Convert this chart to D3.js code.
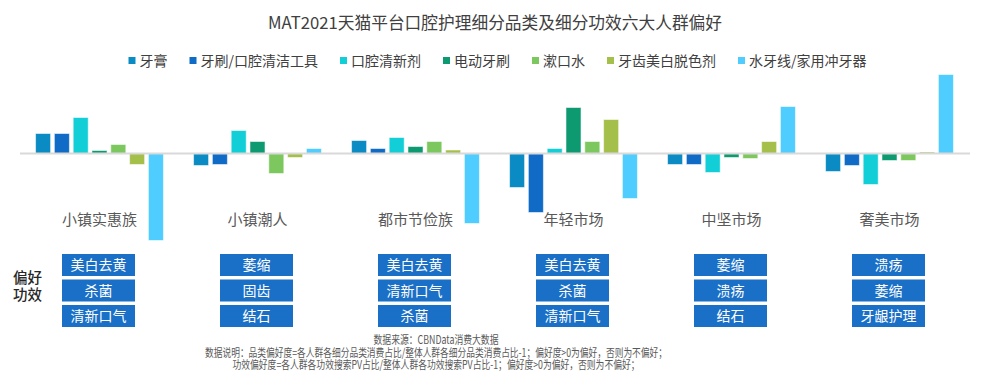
<!DOCTYPE html>
<html>
<head>
<meta charset="utf-8">
<script src="https://cdn.jsdelivr.net/npm/d3@7"></script>
<style>
  body { margin: 0; background: #fff; }
  text { font-family: "Noto Sans CJK SC", "Noto Sans", sans-serif; }
</style>
</head>
<body>
<div id="chart"></div>
<script>
// categories and series
var groups = ["小镇实惠族", "小镇潮人", "都市节俭族", "年轻市场", "中坚市场", "奢美市场"];
var series = ["牙膏", "牙刷/口腔清洁工具", "口腔清新剂", "电动牙刷", "漱口水", "牙齿美白脱色剂", "水牙线/家用冲牙器"];
var colors = ["#0b8bc3", "#106bc6", "#12cfd7", "#0e9a70", "#7dc85e", "#a4c04a", "#50cdff"];

// preference values per series (one entry per group)
var toothpaste   = [0.20, -0.12, 0.13, -0.34, -0.11, -0.18];
var toothbrush   = [0.20, -0.11, 0.05, -0.59, -0.11, -0.12];
var freshener    = [0.36,  0.23, 0.16,  0.05, -0.19, -0.31];
var electric     = [0.03,  0.12, 0.07,  0.46, -0.04, -0.07];
var mouthwash    = [0.09, -0.20, 0.12,  0.12, -0.05, -0.07];
var whitening    = [-0.11, -0.04, 0.035, 0.34, 0.12, 0.015];
var flosser      = [-0.87, 0.05, -0.70, -0.45, 0.47, 0.79];
var values = [toothpaste, toothbrush, freshener, electric, mouthwash, whitening, flosser];

// efficacy preference boxes per group
var effects = [
  ["美白去黄", "杀菌", "清新口气"],
  ["萎缩", "固齿", "结石"],
  ["美白去黄", "清新口气", "杀菌"],
  ["美白去黄", "杀菌", "清新口气"],
  ["萎缩", "溃疡", "结石"],
  ["溃疡", "萎缩", "牙龈护理"]
];

var sideLabel = ["偏好", "功效"];

var notes = [
  "数据来源：CBNData消费大数据",
  "数据说明：品类偏好度=各人群各细分品类消费占比/整体人群各细分品类消费占比-1；偏好度>0为偏好，否则为不偏好；",
  "功效偏好度=各人群各功效搜索PV占比/整体人群各功效搜索PV占比-1；偏好度>0为偏好，否则为不偏好；"
];

var width = 1000, height = 373;

var svg = d3.select("#chart")
  .append("svg")
    .attr("width", width)
    .attr("height", height);

// title
svg.append("text")
  .attr("x", 495)
  .attr("y", 29)
  .attr("text-anchor", "middle")
  .attr("font-size", 17)
  .attr("fill", "#404040")
  .attr("textLength", 454)
  .attr("lengthAdjust", "spacingAndGlyphs")
  .text("MAT2021天猫平台口腔护理细分品类及细分功效六大人群偏好");

// legend, laid out left to right then centred
var legend = svg.append("g");
var lx = 0;
series.forEach(function(s, i) {
  var item = legend.append("g").attr("transform", "translate(" + lx + ",0)");
  item.append("rect")
    .attr("x", 0).attr("y", -4)
    .attr("width", 7).attr("height", 7)
    .attr("fill", colors[i]);
  var t = item.append("text")
    .attr("x", 11).attr("y", 5)
    .attr("font-size", 14)
    .attr("fill", "#404040")
    .text(s);
  lx += 11 + t.node().getComputedTextLength() + 22;
});
lx -= 22;
legend.attr("transform", "translate(" + (497.5 - lx / 2) + ",61)");

// scales
var x0 = d3.scaleBand()
  .domain(groups)
  .range([20.5, 968.5]);

var x1 = d3.scaleBand()
  .domain(d3.range(series.length))
  .range([0, x0.bandwidth()])
  .paddingInner(0.2)
  .paddingOuter(0.8);

var y = d3.scaleLinear()
  .domain([-1, 1])
  .range([253.5, 53.5]);

// bars
var groupG = svg.selectAll(".grp")
  .data(groups)
  .enter()
  .append("g")
    .attr("class", "grp")
    .attr("transform", function(d) { return "translate(" + x0(d) + ",0)"; });

groupG.selectAll("rect")
  .data(function(d, gi) {
    return values.map(function(v, si) { return {s: si, v: v[gi]}; });
  })
  .enter()
  .append("rect")
    .attr("x", function(d) { return x1(d.s); })
    .attr("width", x1.bandwidth())
    .attr("y", function(d) { return y(Math.max(0, d.v)); })
    .attr("height", function(d) { return Math.abs(y(d.v) - y(0)); })
    .attr("fill", function(d) { return colors[d.s]; })
    .attr("stroke", "#ffffff")
    .attr("stroke-opacity", 0.55)
    .attr("stroke-width", 1);

// zero line
svg.append("line")
  .attr("x1", 20).attr("x2", 970)
  .attr("y1", y(0)).attr("y2", y(0))
  .attr("stroke", "#d9d9d9")
  .attr("stroke-width", 2);

// group labels
svg.selectAll(".glabel")
  .data(groups)
  .enter()
  .append("text")
    .attr("class", "glabel")
    .attr("x", function(d) { return x0(d) + x0.bandwidth() / 2; })
    .attr("y", 225)
    .attr("text-anchor", "middle")
    .attr("font-size", 15)
    .attr("fill", "#595959")
    .text(function(d) { return d; });

// efficacy boxes
var boxW = 73, boxH = 22, boxTop = 254, boxStep = 25.5;
groups.forEach(function(g, gi) {
  var cx = x0(g) + x0.bandwidth() / 2 - 1;
  effects[gi].forEach(function(e, r) {
    svg.append("rect")
      .attr("x", cx - boxW / 2)
      .attr("y", boxTop + r * boxStep)
      .attr("width", boxW)
      .attr("height", boxH)
      .attr("fill", "#1a6fc6");
    svg.append("text")
      .attr("x", cx)
      .attr("y", boxTop + r * boxStep + boxH / 2 + 5)
      .attr("text-anchor", "middle")
      .attr("font-size", 14)
      .attr("fill", "#ffffff")
      .text(e);
  });
});

// side label, one two-line text
var side = svg.append("text")
  .attr("font-size", 14.5)
  .attr("font-weight", 500)
  .attr("fill", "#262626");
side.selectAll("tspan")
  .data(sideLabel)
  .enter()
  .append("tspan")
    .attr("x", 13)
    .attr("y", function(d, i) { return 283 + i * 17; })
    .text(function(d) { return d; });

// footnotes, one three-line text
var noteLen = [125, 462, 407];
var foot = svg.append("text")
  .attr("text-anchor", "middle")
  .attr("font-size", 11.5)
  .attr("fill", "#595959");
foot.selectAll("tspan")
  .data(notes)
  .enter()
  .append("tspan")
    .attr("x", 436)
    .attr("y", function(d, i) { return 344 + i * 12.5; })
    .attr("textLength", function(d, i) { return noteLen[i]; })
    .attr("lengthAdjust", "spacingAndGlyphs")
    .text(function(d) { return d; });
</script>
</body>
</html>
